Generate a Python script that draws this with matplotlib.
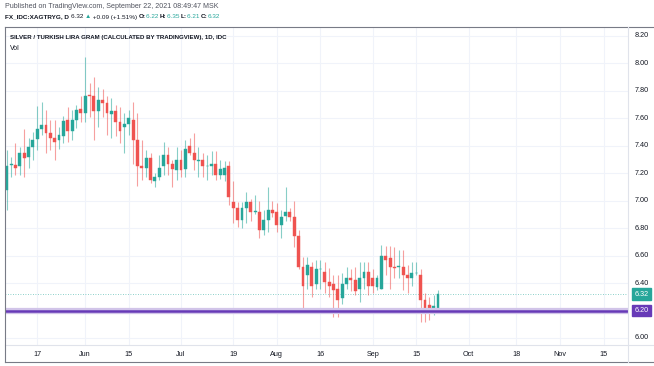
import numpy as np
import pandas as pd
import matplotlib.pyplot as plt
from matplotlib.patches import Rectangle

# daily candles, FX_IDC:XAGTRYG, May 6 - Sep 22 2021
opens = [7.08, 7.26, 7.26, 7.25, 7.35, 7.32, 7.39, 7.45, 7.52, 7.55,
         7.49, 7.46, 7.44, 7.47, 7.59, 7.51, 7.59, 7.67, 7.64, 7.77,
         7.76, 7.65, 7.73, 7.71, 7.63, 7.65, 7.57, 7.54, 7.56, 7.59,
         7.44, 7.25, 7.24, 7.31, 7.14, 7.17, 7.25, 7.33, 7.27, 7.22,
         7.30, 7.23, 7.40, 7.35, 7.29, 7.30, 7.25, 7.25, 7.27, 7.19,
         7.19, 7.25, 6.99, 6.95, 6.86, 6.95, 6.99, 6.92, 6.92, 6.79,
         6.86, 6.93, 6.92, 6.82, 6.89, 6.92, 6.88, 6.74, 6.52, 6.46,
         6.52, 6.39, 6.50, 6.48, 6.41, 6.39, 6.36, 6.29, 6.39, 6.44,
         6.42, 6.36, 6.44, 6.48, 6.44, 6.37, 6.36, 6.60, 6.58, 6.52,
         6.52, 6.52, 6.46, 6.44, 6.47, 6.46, 6.28, 6.24, 6.21, 6.22]
highs = [7.37, 7.32, 7.42, 7.39, 7.52, 7.46, 7.50, 7.69, 7.72, 7.66,
         7.59, 7.59, 7.54, 7.62, 7.68, 7.66, 7.70, 7.76, 8.05, 7.86,
         7.90, 7.83, 7.81, 7.76, 7.75, 7.70, 7.68, 7.64, 7.66, 7.72,
         7.64, 7.44, 7.37, 7.35, 7.20, 7.33, 7.43, 7.39, 7.30, 7.39,
         7.37, 7.44, 7.46, 7.49, 7.39, 7.35, 7.33, 7.36, 7.36, 7.30,
         7.29, 7.29, 7.14, 6.99, 6.99, 7.06, 7.01, 7.04, 7.00, 6.93,
         7.10, 7.00, 6.98, 6.93, 7.10, 6.95, 7.00, 6.79, 6.59, 6.59,
         6.55, 6.57, 6.57, 6.55, 6.51, 6.46, 6.46, 6.47, 6.52, 6.50,
         6.52, 6.55, 6.55, 6.55, 6.50, 6.46, 6.68, 6.67, 6.67, 6.66,
         6.64, 6.64, 6.53, 6.55, 6.55, 6.50, 6.33, 6.30, 6.31, 6.35]
lows = [6.93, 7.17, 7.19, 7.19, 7.17, 7.24, 7.30, 7.37, 7.48, 7.35,
        7.37, 7.30, 7.38, 7.42, 7.43, 7.44, 7.53, 7.57, 7.57, 7.61,
        7.44, 7.54, 7.61, 7.48, 7.46, 7.47, 7.42, 7.35, 7.48, 7.27,
        7.11, 7.15, 7.17, 7.13, 7.10, 7.15, 7.19, 7.19, 7.10, 7.15,
        7.17, 7.17, 7.33, 7.22, 7.17, 7.17, 7.15, 7.19, 7.15, 7.16,
        7.14, 6.97, 6.84, 6.81, 6.80, 6.84, 6.85, 6.90, 6.73, 6.75,
        6.77, 6.88, 6.77, 6.73, 6.85, 6.85, 6.66, 6.50, 6.20, 6.36,
        6.30, 6.36, 6.36, 6.33, 6.30, 6.15, 6.15, 6.25, 6.36, 6.34,
        6.31, 6.26, 6.36, 6.31, 6.33, 6.35, 6.36, 6.46, 6.36, 6.44,
        6.44, 6.35, 6.33, 6.38, 6.46, 6.12, 6.12, 6.13, 6.17, 6.21]
closes = [7.25, 7.27, 7.24, 7.35, 7.31, 7.39, 7.44, 7.52, 7.55, 7.49,
          7.46, 7.43, 7.48, 7.58, 7.51, 7.59, 7.66, 7.64, 7.76, 7.76,
          7.65, 7.73, 7.71, 7.64, 7.65, 7.57, 7.51, 7.56, 7.60, 7.44,
          7.25, 7.24, 7.31, 7.15, 7.17, 7.24, 7.33, 7.27, 7.23, 7.30,
          7.22, 7.38, 7.35, 7.30, 7.30, 7.25, 7.25, 7.27, 7.19, 7.23,
          7.24, 7.03, 6.95, 6.86, 6.95, 6.99, 6.92, 6.92, 6.79, 6.86,
          6.93, 6.91, 6.82, 6.88, 6.92, 6.88, 6.74, 6.52, 6.38, 6.53,
          6.38, 6.50, 6.50, 6.41, 6.38, 6.35, 6.28, 6.39, 6.44, 6.42,
          6.34, 6.44, 6.48, 6.38, 6.38, 6.44, 6.60, 6.57, 6.52, 6.51,
          6.52, 6.46, 6.44, 6.47, 6.47, 6.28, 6.21, 6.21, 6.23, 6.32]

dates = pd.bdate_range("2021-05-06", "2021-11-30")
tick_dates = ["2021-05-17", "2021-06-01", "2021-06-15", "2021-07-01", "2021-07-19",
              "2021-08-02", "2021-08-16", "2021-09-01", "2021-09-15", "2021-10-01",
              "2021-10-18", "2021-11-01", "2021-11-15"]
tick_labels = ["17", "Jun", "15", "Jul", "19", "Aug", "16", "Sep", "15", "Oct", "18", "Nov", "15"]
price_ticks = [6.00, 6.20, 6.40, 6.60, 6.80, 7.00, 7.20, 7.40, 7.60, 7.80, 8.00, 8.20]
level = 6.20  # drawn horizontal line

UP = "#26a69a"
DOWN = "#ef5350"
PURPLE = "#673ab7"
TXT = "#131722"
GRID = "#f0f3fa"

plt.rcParams["font.family"] = ["Liberation Sans", "DejaVu Sans"]

W, H = 654, 366
fig = plt.figure(figsize=(W / 100, H / 100), dpi=100)

# main axes: x 5..628, y 27..345 (pixels from top)
XMAX = 142.6
ax = fig.add_axes([5 / W, 1 - 345 / H, (628 - 5) / W, (345 - 27) / H])
ax.set_xlim(-0.4, XMAX)
ax.set_ylim(5.949, 8.265)

for t in price_ticks:
    ax.axhline(t, color=GRID, lw=0.8, zorder=0)
xt = [dates.get_loc(pd.Timestamp(d)) for d in tick_dates]
for x in xt:
    ax.axvline(x, color=GRID, lw=0.8, zorder=0)

idx = np.arange(len(opens))
for i, o, h, l, c in zip(idx, opens, highs, lows, closes):
    col = UP if c >= o else DOWN
    ax.vlines(i, l, h, color=col, lw=0.8, alpha=0.55, zorder=2)
    bot = min(o, c)
    hgt = max(abs(c - o), 0.006)
    ax.add_patch(Rectangle((i - 0.33, bot), 0.66, hgt, facecolor=col,
                           edgecolor=col, lw=0.3, zorder=3))

# horizontal line at 6.20 with soft highlight
ax.axhline(level, color="#d1c4e9", lw=4.5, zorder=4)
ax.axhline(level, color=PURPLE, lw=1.8, zorder=5)
# last price dotted line
ax.axhline(closes[-1], color=UP, lw=0.6, ls=(0, (1, 2)), alpha=0.7, zorder=1)

ax.set_xticks([])
ax.set_yticks([])
for s in ax.spines.values():
    s.set_visible(False)

# price axis labels
LX = XMAX + 1.5
for t in price_ticks:
    ax.text(LX, t, f"{t:.2f}", fontsize=5.2, color=TXT, va="center",
            ha="left", clip_on=False)
for val, col in [(closes[-1], UP), (level, PURPLE)]:
    ax.text(LX, val, f"{val:.2f}", fontsize=5.2, color="white", va="center",
            ha="left", clip_on=False, zorder=6,
            bbox=dict(boxstyle="square,pad=0.3", fc=col, ec=col))

# date labels
for x, lab in zip(xt, tick_labels):
    ax.text(x, 5.949 - 0.072, lab, fontsize=5.2, color=TXT, ha="center", va="center",
            clip_on=False)

# frame lines
def hline(y, x0, x1, c="#b2b5be", lw=0.8):
    fig.add_artist(plt.Line2D([x0 / W, x1 / W], [1 - y / H, 1 - y / H], color=c, lw=lw))

def vline(x, y0, y1, c="#b2b5be", lw=0.8):
    fig.add_artist(plt.Line2D([x / W, x / W], [1 - y0 / H, 1 - y1 / H], color=c, lw=lw))

hline(27, 5, 654, c="#787b86")
hline(345, 5, 654, c="#e0e3eb")
hline(362, 5, 654, c="#787b86")
vline(5, 27, 362, c="#787b86")
vline(628, 27, 362, c="#e0e3eb")

# titles
fig.text(10 / W, 1 - 37 / H, "SILVER / TURKISH LIRA GRAM (CALCULATED BY TRADINGVIEW), 1D, IDC",
         fontsize=4.45, fontweight="bold", color=TXT, va="center")
fig.text(10 / W, 1 - 48 / H, "Vol", fontsize=5.0, color=TXT, va="center")
fig.text(5 / W, 1 - 6 / H, "Published on TradingView.com, September 22, 2021 08:49:47 MSK",
         fontsize=5.15, color="#50535e", va="center")

# second header line, pieces chained left to right
pieces = [("FX_IDC:XAGTRYG, D ", TXT, "bold"), ("6.32 ", TXT, "normal"),
          ("\u25b2", UP, "normal"), (" +0.09 (+1.51%) ", TXT, "normal"),
          ("O:", TXT, "bold"), ("6.22 ", UP, "normal"), ("H:", TXT, "bold"),
          ("6.35 ", UP, "normal"), ("L:", TXT, "bold"), ("6.21 ", UP, "normal"),
          ("C:", TXT, "bold"), ("6.32", UP, "normal")]
fig.canvas.draw()
r = fig.canvas.get_renderer()
x = 5
for s, col, fw in pieces:
    t = fig.text(x / W, 1 - 17 / H, s, fontsize=4.6, color=col, fontweight=fw, va="center")
    x += t.get_window_extent(r).width

fig.savefig("out.png", dpi=100, facecolor="white")
